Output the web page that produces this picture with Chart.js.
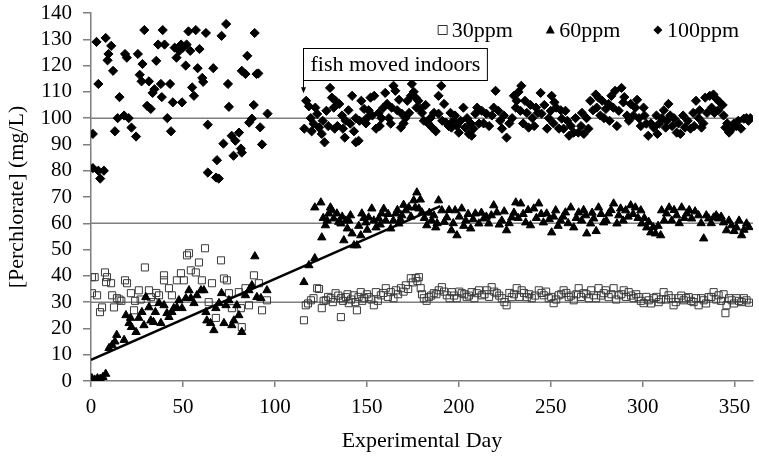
<!DOCTYPE html>
<html>
<head>
<meta charset="utf-8">
<script src="https://cdn.jsdelivr.net/npm/chart.js@4.4.1/dist/chart.umd.min.js"></script>
<style>
  html, body { margin: 0; padding: 0; background: #fff; }
</style>
</head>
<body>
<canvas id="perchlorateChart" width="759" height="467"></canvas>
<script>
// [day, mg/L]
const series30 = [
  [0.5,39.5],[0.5,33.4],[2,39.5],[3.3,32.6],[4.9,26.2],[6,28],[7.6,41.3],[8.2,37.6],[8.7,39.5],[10.9,37.2],
  [11.5,32.6],[12.5,28],[14.1,31.5],[15.5,31],[16.5,30.5],[18.5,38.3],[19.6,37.2],[21.7,33.4],[23.4,26.9],[24,30.5],
  [26,34.5],[27,31],[29.3,43.2],[31.5,34.5],[32.6,31.9],[34,30],[35.5,33.5],[37,32.6],[39.7,40.2],[39.7,38.3],
  [42.4,35.3],[44,32.6],[46.7,38.3],[48.9,41],[50.5,38.3],[52.2,47.8],[53.3,48.6],[54.3,42.1],[57,41.3],[58.7,45.1],
  [60.3,38.3],[62,50.5],[64,30],[65.8,37.2],[67.9,24],[70.7,45.9],[72.3,39],[73.9,38.3],[75,33.4],[76.6,27.7],
  [80.4,33.8],[81.5,27.7],[82,20.5],[84,35.3],[85.9,28.8],[88.6,40.2],[91.3,37.2],[93,26.9],[95.7,30.7],
  [115.8,23.1],[116.8,28.8],[118,29.5],[119.6,30.7],[121,31.5],[123,35.3],[124,35],[125.5,27.7],[126.5,30.5],[127.7,30.7],
  [129,32],[130.4,31.5],[131.5,30],[133,33.4],[134.5,32.5],[135.9,24.3],[135.9,31.5],[137,30.5],[138.6,31.9],[139.5,33],
  [140.2,29.6],[141.5,31],[142.9,32.6],[143.8,30],[144.6,26.9],[145.5,32],[146.7,33.8],[147.5,30.5],[148.4,31.5],[150,33],
  [151,31.9],[152.5,31],[153.8,28.8],[154.9,33.8],[156,30.5],[157.6,32.6],[159,33.5],[160.3,35.3],[161.5,32],[163,33.8],
  [164.5,31.5],[165.8,34.5],[167,33],[168.5,35.3],[170,34],[171.2,36.4],[172.5,35],[173.9,39.1],[175,37.5],[176.6,39.1],
  [177.5,38],[178.3,39.5],[179.3,35.3],[180,33],[181,31.5],[182.5,30.5],[183.7,31.9],[185,32.5],[186.4,33.4],[187.8,33],
  [189.1,34.5],[190.8,35.7],[192,34],[193.5,32.6],[195,31.5],[196.2,33.8],[197.5,32.5],[198.9,31.5],[200.3,34],[201.6,33.4],
  [203,33],[204.3,31.9],[205.5,32.5],[207,33.8],[208.5,31.5],[209.8,33.4],[211,34.5],[212.5,32.6],[214,33],[215.2,34.5],
  [216.5,32],[217.9,35.7],[219.3,34],[220.7,33.4],[222,32.5],[223.4,31.5],[224.8,30],[226,28.8],[227.5,33.5],[228.8,31.9],
  [230,33],[231.5,35.3],[233,32],[234.2,34.5],[235.5,33.5],[237,31.9],[238.3,33],[239.7,31.5],[241.5,32.5],[243.5,34.5],
  [245,33.5],[246.2,32.6],[247.5,34],[248.9,31.5],[250.3,32],[251.6,29.6],[253,31],[254.3,32.6],[255.7,33],[257,34.5],
  [258.5,33.5],[259.8,31.9],[261,32.5],[262.5,30.7],[264,33],[265.2,35.3],[266.5,32],[267.9,33.4],[269.3,33],[270.7,31.5],
  [272,34.5],[273.4,32.6],[274.7,31.5],[276,35.3],[277.4,32.5],[278.8,33.4],[280,34.5],[281.5,31.9],[283,33],[284.2,35.3],
  [285.6,31],[287,32.6],[288.4,33],[289.7,34.5],[291,32],[292.4,33.8],[293.7,32.5],[295.1,31.5],[296.5,33],[297.8,31.9],
  [299,30.5],[300.5,29.6],[302,32],[303.3,30.7],[304.6,29.5],[306,31.5],[307.4,32],[308.7,30],[310,31],[311.4,33.8],
  [312.7,31],[314.1,32.6],[315.5,31.5],[316.8,28.8],[318,30],[319.6,31.5],[321,32.5],[322.3,30.7],[323.6,31.5],[325,31.9],
  [326.4,30.5],[327.7,30],[329,31.5],[330.4,28.8],[331.8,31.5],[333.2,30.7],[334.5,29.5],[335.9,31.9],[337.3,32],[338.6,33.8],
  [340,31],[341.3,32.6],[342.6,30.5],[344,33],[345,25.8],[345.6,28.8],[347,31.5],[348.4,30.7],[349.7,29.5],[351,31.5],
  [352.4,30.5],[353.8,30],[355.1,31.5],[356.5,30.7],[357.8,29.8]
];

const series60 = [
  [0.5,1],[2,0.5],[3.5,1],[5,0.8],[6.5,1.5],[8,2.7],[9.8,12.5],[11.5,13.7],[13,15],[14,17.5],
  [18,15.6],[19,25],[20.7,22],[21.5,24],[22,20.5],[24.5,18.6],[26,24],[27.7,26.2],[28.8,21.2],[29.8,31.9],
  [31.5,28],[32.5,23],[34,22.4],[35,26.2],[37,29.6],[38,22],[39.7,28.8],[41.3,25.8],[42.4,24.3],[44,26.2],
  [45,27.7],[46.7,28],[47.8,30.7],[49.5,27.7],[51.6,31.5],[53.3,34.5],[54.3,31.5],[56,29.6],[57.6,32.6],[59.8,34.5],
  [61.4,34.5],[62.5,26.2],[63,23],[65,22],[66.8,19.3],[67.9,27.7],[69.6,29.6],[71,33.4],[72.3,22],[73.4,28.8],
  [75,30.7],[76.6,21.2],[77.7,23],[79.3,28.8],[80.4,25],[82,18.6],[84,32.6],[85.9,34.5],[87.5,36.4],[89.1,47.4],
  [90.2,31.9],[92.4,31.5],[95.7,34.5],
  [115.8,37.6],[118.5,44],[121.7,46.7],[121.7,66],[125,67.9],[125.5,54.6],[126.3,62],[127.5,59.2],[128.4,61],[129.3,63.7],
  [130.2,66],[131,64.9],[132,61.8],[133.7,63.7],[134.7,60.5],[135.9,59.9],[136.6,62.5],[137.5,53.5],[138.6,61],[139.4,58],
  [140.2,61],[141.1,63],[142,56.1],[143,51.6],[144.6,51.6],[145.6,59],[146.7,55.4],[147.3,63.7],[148.4,62],[149.5,60.3],
  [150.2,57.5],[151,62.2],[152.7,65.6],[153.8,61],[155,58.4],[156.5,61.8],[157.3,59.5],[158,63.7],[159.2,65.5],[160.3,61],
  [161.6,63.5],[163,58],[164.4,61],[165.8,63.7],[166.6,65],[167.4,59.9],[168.2,61.5],[169,63],[170,67],[171.2,64.9],
  [172.8,66],[174,62.5],[175.5,68.7],[176.3,66],[177.2,71.7],[178.3,65.6],[179.1,69],[180,64.1],[181.3,62],[182.6,59.2],
  [184,64],[185.3,61],[186.4,63],[187.5,58.4],[188.2,60],[189,68.7],[190.8,64.9],[192.1,60.5],[193.5,62.2],[194.7,65],
  [196,57.3],[197,60],[198,64.9],[199,55.4],[200.3,62.5],[201.6,65.6],[202.7,59],[203.8,61],[205.1,63.5],[206.5,58],
  [207.8,61.5],[209,63.7],[210.9,59.9],[212.3,64],[213.6,61.8],[215,62.5],[216.3,59.9],[217.7,63],[219,66.8],[220.7,64.1],
  [222,59.5],[223.4,61],[224.7,64.5],[226,57.3],[227.4,60],[228.8,62.2],[230,64],[231,67.9],[232.3,62],[233.7,67.5],
  [235,63.5],[236.4,60.3],[237.7,65],[239,59.2],[240.8,65.6],[242.2,62],[243.5,67.5],[244.8,63.5],[246,60.3],[247.8,63.7],
  [249.2,61.5],[250.5,56.5],[251.6,62.5],[252.7,64.9],[254,59],[255.4,61],[256.7,62.5],[258,64.1],[259.5,60],[260.9,66],
  [262.5,58.4],[263.9,62],[265.2,64.1],[266.8,61],[267.9,65],[269,63],[269.6,56.1],[271.7,59.9],[272.5,64],[273.4,61.8],
  [274.7,57],[276,66],[277.4,63.5],[278.8,60.3],[280.2,61],[281.5,63.7],[282.8,65],[284.2,67.5],[286,59.9],[287,63],
  [288,65.6],[289.4,61],[290.8,64.9],[292.1,62.5],[293.5,66.8],[294.8,63.5],[296,66],[297.5,62],[299,64.9],[299.5,59.9],
  [300.9,62],[302.2,58.4],[303.3,60.5],[304.4,56.5],[305.7,58.5],[307,56.1],[308.4,59],[309.8,55.4],[310.3,64.9],[311.7,61],
  [313,63.7],[314.4,66],[315.8,61],[317.1,65],[318.5,63],[319.9,60],[321.2,66],[322.6,62],[324,63.7],[325.3,65],
  [326.6,61.8],[328.5,64.5],[330.4,63],[331.8,60],[333.2,54.2],[334.6,63],[335.9,61.8],[337.3,60],[338.6,62.2],[340,63],
  [341.3,61.8],[342.7,62.5],[344,60.3],[345.6,57.3],[346.9,61],[348.4,59.2],[349.7,57],[351,58.4],[352.4,61],[353.8,55.4],
  [355.1,57.5],[356.5,59.9],[357.8,58.5]
];

const series100 = [
  [1,94],[1,81],[3,129],[4,113],[4,80],[5,77],[7,80],[8,130.5],[9,122],[9.5,124.4],
  [11,127.5],[12,118],[13,95],[14.5,100],[15.5,108],[18,101],[18.5,124.4],[19.5,123],[20.5,100],[22,96.4],
  [24.5,93],[25.5,124.4],[26.5,116.5],[27.5,114],[28,120.6],[29,133.5],[30.5,104.7],[31.5,114],[32.5,103.5],[33.5,109.6],
  [34.5,111],[35.5,121.8],[36.5,128],[38,113],[38.5,108],[39,133.5],[40,128],[41.5,100],[43,113],[43.5,95],
  [44.5,106],[45.5,126.8],[46.5,123],[48,125.6],[49,128],[49.5,106],[50,126.8],[51.5,120],[52,128],[53,133],
  [54,125.6],[55,111.7],[56,108.5],[57,133.5],[58,119],[59,126.3],[60.5,115.3],[61,113.8],[62.5,132.4],[63.5,97.5],
  [63.5,79.3],[66.5,119],[68,77.4],[68.5,84],[69.5,77],[71,131.3],[72,90.3],[73.5,135.8],[74.5,113],[75,104.3],
  [76.5,93.3],[77.5,85.7],[78.5,91.4],[80.5,94.5],[81.5,88.4],[82,86.9],[82,118],[84,116.8],[85,123.7],[86,98.3],
  [87.5,99.8],[88.5,105],[89,132.4],[90,116.8],[91,117],[92,96.5],[93,90],[96,101.7],
  [116,96],[117,106.6],[118.5,104.5],[119.5,100],[120,95],[121,97.9],[122,104],[123,101.6],[124,96.4],[125.5,94],
  [126,99],[127,90.8],[128,102.8],[129,97],[130,111.5],[131,107.8],[132,104],[132.5,96],[133,106.6],[134,97],
  [135,105.4],[136.5,101],[137,96],[138,92.6],[138.5,99],[140,103],[141,97.9],[142,108.5],[143,95],[144,100],
  [144,90.8],[145.5,91.4],[146,99],[147,106.6],[148.5,103.5],[149.5,98],[150,100],[151,103],[152,107.8],[153,101],
  [154,108.5],[155,96],[156.5,102],[157,97],[158,100],[159,104],[160,109.6],[161,105.4],[162,100],[163,97.9],
  [163.5,104],[164.5,112.3],[165.5,110.4],[166.5,103],[167.5,107],[168.5,96.4],[169,101.7],[170,98],[171,100],[172,106.6],
  [173,102],[174,108.5],[174.5,113],[175.5,110],[176.5,107.8],[177,104],[178,106.6],[179,103.5],[180,102],[181,99],
  [182,105],[183.5,97.9],[184.5,100],[185.5,96.4],[186.5,102],[187.5,95],[189,101.7],[189,108.5],[190.5,112.3],[191,99],
  [192,105.4],[193,98.3],[194.5,97],[195.5,102],[196,96.4],[197,99],[198,101],[199,97],[200,94.5],[201,99],
  [202.5,104],[203.5,96.4],[204.5,100],[205.5,94],[206.5,98],[207,93.3],[208,96],[209,101.7],[210,104],[211,97.9],
  [212.5,102.8],[213.5,98],[215,101.7],[216.5,97],[218,101],[219,104],[220,110.4],[221.5,102.8],[222.5,99],[223.5,96],
  [224.5,101],[226,92.6],[227.5,98],[229,100],[230,108.5],[231,104],[231.5,106.6],[232.5,110],[233.5,102.8],[234,112.3],
  [235,98],[236,106.6],[237,102],[238,96.4],[239,105],[240,100],[241,97],[242,104],[243,102],[244.5,109.6],
  [245,101.7],[246.5,105],[248,96],[249,100],[250,102.8],[250.5,108.5],[251.5,98],[252,106],[253,104],[254.5,96],
  [255.5,103],[256,99.8],[257,96],[258,102.8],[259,99],[260,93.3],[261,97],[262.5,94.5],[263.5,100],[265,94.5],
  [266.5,97],[267,102],[268,94],[269.5,100],[270.5,96],[271.5,106.6],[273,103],[274.5,109],[275,104],[276,107.8],
  [277,101],[278,106.6],[279,100],[280,103.5],[281.5,105.4],[282,99],[283,108.5],[284,104],[285,110.4],[286,97],
  [287,102.8],[288.5,111.5],[289.5,106],[290,108],[291.5,101],[292.5,99],[293.5,105.4],[295,101],[296,104],[297,107],
  [298,100],[299,97],[300.5,104],[301,101],[302,97.9],[303,93.3],[304.5,98],[306,96.4],[307.5,101],[308,94],
  [309,97.9],[310.5,100],[311.5,103],[312.5,96.4],[313,99],[314,105.4],[315,101],[316,97],[317,100],[318.5,94.5],
  [319.5,98],[320.5,94],[322,101],[323,96.4],[324.5,99],[326,96],[327.5,102],[328,97],[329,106.6],[330.5,100],
  [331,103],[332,96.4],[333,98],[334,107.8],[335,102],[336.5,108.5],[337.5,104],[338.5,109],[339,102],[340,107.4],
  [341,103],[342,106],[343.5,105],[344,101],[345,96.4],[346,98],[347,94.5],[348,95.5],[349.5,97.9],[351,97],
  [352,99],[353.5,96],[355,99.8],[356.5,100],[357.5,99],[358.5,100]
];

const seriesNames = ['30ppm', '60ppm', '100ppm'];
const refLevels = [30, 60, 100];          // target concentrations
const trendLine = [[0, 8], [190, 66.5]];  // ramp-up line for 60ppm
const dayRange = [0, 360];

const FONT = '"Liberation Serif", "Times New Roman", serif';
const toPoints = pairs => pairs.map(([x, y]) => ({ x, y }));

function drawMarker(ctx, style, x, y, r) {
    ctx.beginPath();
    if (style === 'rect') {
        ctx.strokeStyle = '#333';
        ctx.lineWidth = 1;
        ctx.rect(x - r, y - r, 2 * r, 2 * r);
        ctx.stroke();
        return;
    }
    if (style === 'triangle') {
        ctx.moveTo(x, y - r * 1.1);
        ctx.lineTo(x + r, y + r * 0.75);
        ctx.lineTo(x - r, y + r * 0.75);
    } else {
        ctx.moveTo(x, y - r);
        ctx.lineTo(x + r, y);
        ctx.lineTo(x, y + r);
        ctx.lineTo(x - r, y);
    }
    ctx.closePath();
    ctx.fillStyle = '#000';
    ctx.fill();
}

// legend sits inside the plot, top right
const insideLegend = {
    id: 'insideLegend',
    afterDraw(chart) {
        const { ctx, chartArea } = chart;
        const styles = ['rect', 'triangle', 'rectRot'];
        ctx.save();
        ctx.font = '22px ' + FONT;
        ctx.textBaseline = 'middle';
        const y = chartArea.top + 17;
        let x = chartArea.right - 14;
        for (let i = seriesNames.length - 1; i >= 0; i--) {
            const w = ctx.measureText(seriesNames[i]).width;
            x -= w;
            ctx.fillStyle = '#000';
            ctx.fillText(seriesNames[i], x, y + 1);
            drawMarker(ctx, styles[i], x - 9, y, 4.5);
            x -= 9 + 4.5 + 33;
        }
        ctx.restore();
    }
};

// "fish moved indoors" callout with arrow
const indoorNote = {
    id: 'indoorNote',
    afterDraw(chart) {
        const { ctx } = chart;
        const xs = chart.scales.x, ys = chart.scales.y;
        const text = 'fish moved indoors';
        const x0 = Math.round(xs.getPixelForValue(115.5)) + 0.5;
        const top = Math.round(ys.getPixelForValue(126.5)) + 0.5;
        const tip = ys.getPixelForValue(109.5);
        ctx.save();
        ctx.font = '22px ' + FONT;
        const w = ctx.measureText(text).width + 14;
        const h = 32;
        ctx.fillStyle = '#fff';
        ctx.fillRect(x0, top, w, h);
        ctx.strokeStyle = '#000';
        ctx.lineWidth = 1;
        ctx.strokeRect(x0, top, w, h);
        ctx.beginPath();
        ctx.moveTo(x0, top + h);
        ctx.lineTo(x0, tip - 5);
        ctx.stroke();
        ctx.beginPath();
        ctx.moveTo(x0 - 2.5, tip - 6);
        ctx.lineTo(x0 + 2.5, tip - 6);
        ctx.lineTo(x0, tip);
        ctx.closePath();
        ctx.fillStyle = '#000';
        ctx.fill();
        ctx.textBaseline = 'middle';
        ctx.fillText(text, x0 + 7, top + h / 2 + 1);
        ctx.restore();
    }
};

const datasets = [
    {
        label: seriesNames[0],
        data: toPoints(series30),
        pointStyle: 'rect',
        pointRadius: 5,
        borderWidth: 1,
        borderColor: '#3a3a3a',
        backgroundColor: 'rgba(0,0,0,0)',
        order: 3
    },
    {
        label: seriesNames[1],
        data: toPoints(series60),
        pointStyle: 'triangle',
        pointRadius: 4.8,
        borderWidth: 1,
        borderColor: '#000',
        backgroundColor: '#000',
        order: 1
    },
    {
        label: seriesNames[2],
        data: toPoints(series100),
        pointStyle: 'rectRot',
        pointRadius: 4.6,
        borderWidth: 1,
        borderColor: '#000',
        backgroundColor: '#000',
        order: 1
    },
    ...refLevels.map(level => ({
        label: 'target ' + level,
        data: dayRange.map(d => ({ x: d, y: level })),
        showLine: true,
        pointRadius: 0,
        borderColor: '#7f7f7f',
        borderWidth: 1.5,
        order: 5
    })),
    {
        label: 'trend',
        data: toPoints(trendLine),
        showLine: true,
        pointRadius: 0,
        borderColor: '#000',
        borderWidth: 2.5,
        order: 2
    }
];

const axisStyle = {
    grid: { drawOnChartArea: false, color: '#7f7f7f', lineWidth: 1.5 },
    border: { color: '#7f7f7f', width: 1.5 }
};

const ctx = document.getElementById('perchlorateChart').getContext('2d');
const perchlorateChart = new Chart(ctx, {
    type: 'scatter',
    data: { datasets },
    options: {
        responsive: false,
        animation: false,
        layout: { padding: { left: 2, right: 5, top: 0, bottom: 0 } },
        plugins: {
            legend: { display: false },
            tooltip: { enabled: false }
        },
        scales: {
            x: {
                type: 'linear',
                min: dayRange[0],
                max: dayRange[1],
                grid: { ...axisStyle.grid, tickLength: 6 },
                border: axisStyle.border,
                ticks: {
                    stepSize: 50,
                    includeBounds: false,
                    autoSkip: false,
                    maxRotation: 0,
                    padding: 8,
                    color: '#000',
                    font: { family: FONT, size: 21 }
                },
                title: {
                    display: true,
                    text: 'Experimental Day',
                    color: '#000',
                    font: { family: FONT, size: 22 },
                    padding: { top: 0, bottom: 13 }
                },
                afterFit(scale) {
                    scale.height = 86;
                    scale.paddingLeft = 0;
                    scale.paddingRight = 0;
                }
            },
            y: {
                min: 0,
                max: 140,
                grid: { ...axisStyle.grid, tickLength: 8 },
                border: axisStyle.border,
                ticks: {
                    stepSize: 10,
                    autoSkip: false,
                    padding: 11,
                    color: '#000',
                    font: { family: FONT, size: 21 }
                },
                title: {
                    display: true,
                    text: '[Perchlorate] (mg/L)',
                    color: '#000',
                    font: { family: FONT, size: 22 },
                    padding: { top: 2, bottom: 0 }
                },
                afterFit(scale) {
                    scale.width = 89;
                    scale.paddingTop = 13;
                    scale.paddingBottom = 0;
                }
            }
        }
    },
    plugins: [insideLegend, indoorNote]
});
</script>
</body>
</html>
